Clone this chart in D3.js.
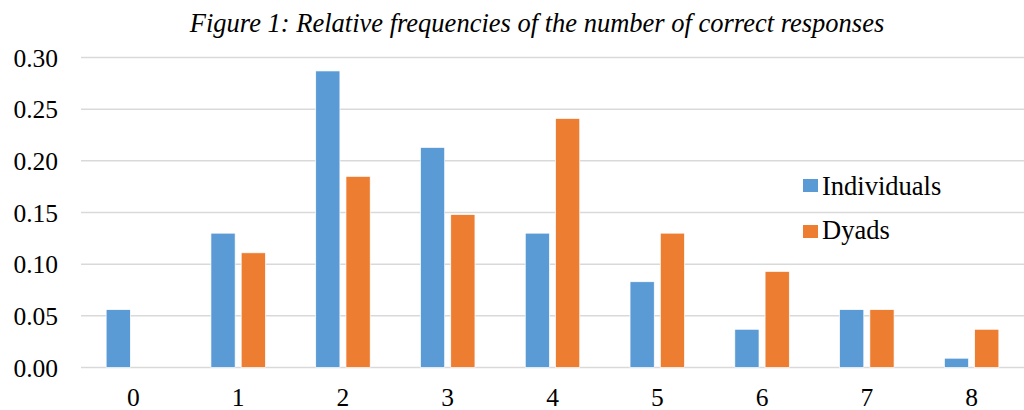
<!DOCTYPE html>
<html>
<head>
<meta charset="utf-8">
<script src="https://cdn.jsdelivr.net/npm/d3@7"></script>
<style>
  body { margin: 0; background: #fff; }
  #chart { width: 1024px; height: 410px; }
  svg text { font-family: "Times New Roman", "Liberation Serif", Tinos, serif; fill: #000; }
</style>
</head>
<body>
<div id="chart"></div>
<script>
// values
const categories = ["0", "1", "2", "3", "4", "5", "6", "7", "8"]
const seriesNames = ["Individuals", "Dyads"]
const individuals = [0.056, 0.130, 0.287, 0.213, 0.130, 0.083, 0.037, 0.056, 0.009]
const dyads = [0, 0.111, 0.185, 0.148, 0.241, 0.130, 0.093, 0.056, 0.037]
const yTicks = [0, 0.05, 0.10, 0.15, 0.20, 0.25, 0.30]
const colors = ["#5b9bd5", "#ed7d31"]
const title = "Figure 1: Relative frequencies of the number of correct responses"

const width = 1024
const height = 410
const plotLeft = 81
const plotRight = 1024
const plotTop = 57.5
const plotBottom = 367.5

const svg = d3.select("#chart").append("svg")
  .attr("viewBox", [0, 0, width, height])
  .attr("width", width)
  .attr("height", height)

const xScale = d3.scaleBand()
  .domain(categories)
  .range([plotLeft, plotRight])
  .paddingInner(0.48)
  .paddingOuter(0.24)

const xSub = d3.scaleBand()
  .domain(seriesNames)
  .range([0, xScale.bandwidth()])
  .paddingInner(0.2)

const yScale = d3.scaleLinear()
  .domain([0, 0.30])
  .range([plotBottom, plotTop])

// gridlines
svg.append("g").classed("grid", true)
  .selectAll("line")
  .data(yTicks)
  .join("line")
  .attr("x1", plotLeft)
  .attr("x2", plotRight)
  .attr("y1", d => yScale(d))
  .attr("y2", d => yScale(d))
  .attr("stroke", "#d9d9d9")
  .attr("stroke-width", 1.5)

// y axis labels
const axisY = svg.append("g").classed("axis y", true)
  .attr("transform", `translate(${plotLeft - 23},0)`)
  .call(d3.axisLeft(yScale).tickValues(yTicks).tickFormat(d3.format(".2f")).tickSize(0).tickPadding(0))
axisY.attr("font-family", null).attr("font-size", 25.5)
axisY.select(".domain").remove()
axisY.selectAll("text").attr("dy", "0.34em")

// x axis labels
const axisX = svg.append("g").classed("axis x", true)
  .attr("transform", `translate(0,${plotBottom})`)
  .call(d3.axisBottom(xScale).tickSize(0).tickPadding(0))
axisX.attr("font-family", null).attr("font-size", 25.5)
axisX.select(".domain").remove()
axisX.selectAll("text").attr("y", 38).attr("dy", null)

// bars
const rows = categories.map((c, i) => ({ cat: c, vals: [individuals[i], dyads[i]] }))
svg.append("g").classed("bars", true)
  .selectAll("g")
  .data(rows)
  .join("g")
  .attr("transform", d => `translate(${xScale(d.cat)},0)`)
  .selectAll("rect")
  .data(d => d.vals.map((v, j) => ({ name: seriesNames[j], v, j })).filter(b => b.v > 0))
  .join("rect")
  .attr("x", d => xSub(d.name))
  .attr("width", xSub.bandwidth())
  .attr("y", d => yScale(d.v))
  .attr("height", d => yScale(0) - yScale(d.v))
  .attr("fill", d => colors[d.j])
  .attr("stroke", "#fff")
  .attr("stroke-width", 0.7)

// legend
const legend = svg.append("g").classed("legend", true)
  .attr("transform", "translate(803,179)")
legend.selectAll("rect")
  .data(seriesNames)
  .join("rect")
  .attr("x", 0)
  .attr("y", (d, i) => i * 46)
  .attr("width", 15)
  .attr("height", 13)
  .attr("fill", (d, i) => colors[i])
legend.selectAll("text")
  .data(seriesNames)
  .join("text")
  .attr("x", 19)
  .attr("y", (d, i) => i * 44 + 16)
  .attr("font-size", 26.5)
  .text(d => d)

// title
svg.append("text")
  .attr("x", 537)
  .attr("y", 32)
  .attr("text-anchor", "middle")
  .attr("font-size", 26.5)
  .attr("font-style", "italic")
  .text(title)
</script>
</body>
</html>
